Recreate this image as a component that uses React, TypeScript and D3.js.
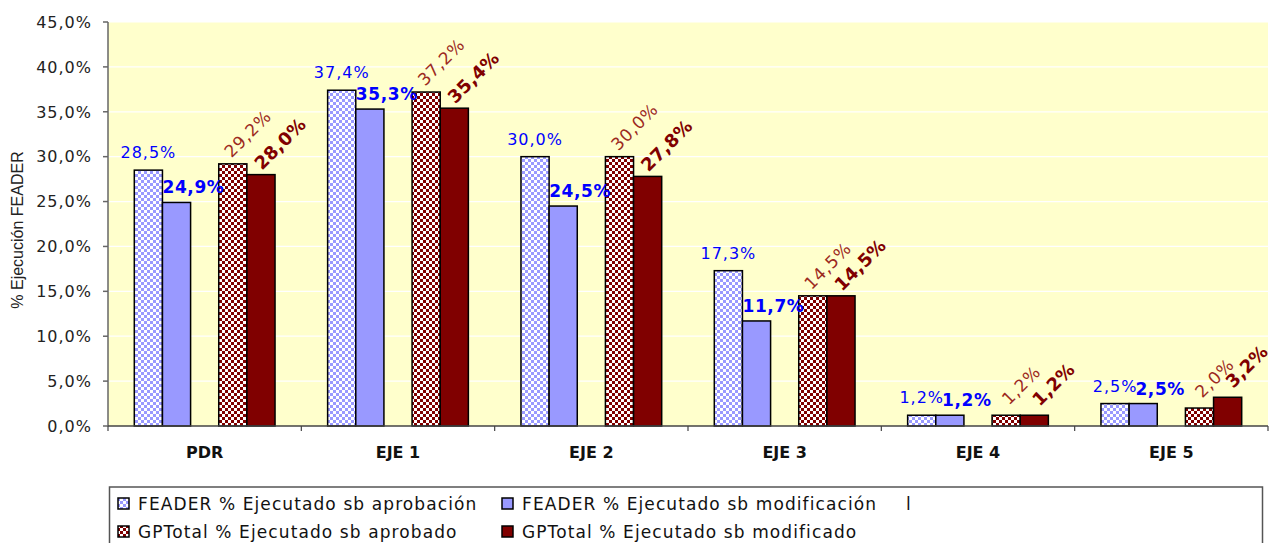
import React from "react";
import { scaleBand, scaleLinear, formatLocale } from "d3";

// categories and series values (percent)
const categories = ["PDR", "EJE 1", "EJE 2", "EJE 3", "EJE 4", "EJE 5"];
const feaderAprobacion = [28.5, 37.4, 30.0, 17.3, 1.2, 2.5];
const feaderModificacion = [24.9, 35.3, 24.5, 11.7, 1.2, 2.5];
const serieL: (number | null)[] = [null, null, null, null, null, null];
const gpAprobado = [29.2, 37.2, 30.0, 14.5, 1.2, 2.0];
const gpModificado = [28.0, 35.4, 27.8, 14.5, 1.2, 3.2];
const yTicks = [0, 5, 10, 15, 20, 25, 30, 35, 40, 45];

const seriesNames = [
  "FEADER % Ejecutado sb aprobación",
  "FEADER % Ejecutado sb modificación",
  "l",
  "GPTotal % Ejecutado sb aprobado",
  "GPTotal % Ejecutado sb modificado",
];
const seriesValues = [feaderAprobacion, feaderModificacion, serieL, gpAprobado, gpModificado];

const W = 1273;
const H = 543;
const left = 108;
const right = 1268;
const top = 22;
const bottom = 426;

const esLocale = formatLocale({ decimal: ",", thousands: ".", grouping: [3], currency: ["", "€"] });
const fmt = esLocale.format(".1f");
const pct = (v: number) => fmt(v) + "%";

const fills = ["url(#chkBlue)", "#9999FF", "none", "url(#chkRed)", "#800000"];

// label style per series
const labelStyle = [
  { color: "#0000FF", bold: false, rot: false, dx: 0, dy: -12, size: 16, ls: 1 },
  { color: "#0000FF", bold: true, rot: false, dx: 17, dy: -9, size: 17, ls: 0.6 },
  null,
  { color: "#9C2A1E", bold: false, rot: true, dx: 15, dy: -30, size: 17, ls: 0.8 },
  { color: "#800000", bold: true, rot: true, dx: 19, dy: -31, size: 18, ls: 0.3 },
];

const App = () => {
  const y = scaleLinear().domain([0, 45]).range([bottom, top]);
  const x0 = scaleBand<string>().domain(categories).range([left, right]);
  const bw = x0.bandwidth();
  const x1 = scaleBand<number>()
    .domain(seriesNames.map((_, i) => i))
    .range([26.3, bw - 26.3]);

  const font = "'DejaVu Sans', Verdana, sans-serif";

  return (
    <svg
      width={W}
      height={H}
      style={{ position: "absolute", left: 0, top: 0, background: "#fff" }}
      fontFamily={font}
    >
      <defs>
        <pattern id="chkBlue" width={6} height={6} patternUnits="userSpaceOnUse">
          <rect width={6} height={6} fill="#9999FF" />
          <rect width={3} height={3} fill="#fff" />
          <rect x={3} y={3} width={3} height={3} fill="#fff" />
        </pattern>
        <pattern id="chkRed" width={6} height={6} patternUnits="userSpaceOnUse">
          <rect width={6} height={6} fill="#800000" />
          <rect width={3} height={3} fill="#fff" />
          <rect x={3} y={3} width={3} height={3} fill="#fff" />
        </pattern>
      </defs>

      {/* plot area */}
      <rect x={left} y={top} width={right - left} height={bottom - top} fill="#FFFFCC" />
      {yTicks.slice(1).map((t) => (
        <line key={t} x1={left} x2={right} y1={y(t)} y2={y(t)} stroke="#fff" strokeWidth={1.2} />
      ))}

      {/* bars */}
      {categories.map((c, ci) =>
        seriesValues.map((vals, si) => {
          const v = vals[ci];
          if (v == null) return null;
          const bx = (x0(c) as number) + (x1(si) as number);
          return (
            <rect
              key={c + si}
              x={bx}
              y={y(v)}
              width={x1.bandwidth()}
              height={y(0) - y(v)}
              fill={fills[si]}
              stroke="#000"
              strokeWidth={1.5}
            />
          );
        })
      )}

      {/* data labels */}
      {categories.map((c, ci) =>
        seriesValues.map((vals, si) => {
          const v = vals[ci];
          const st = labelStyle[si];
          if (v == null || !st) return null;
          const cx = (x0(c) as number) + (x1(si) as number) + x1.bandwidth() / 2;
          const ty = y(v);
          const common = {
            fill: st.color,
            fontWeight: st.bold ? "bold" : "normal",
            fontSize: st.size,
            letterSpacing: st.ls,
          };
          if (st.rot) {
            return (
              <text
                key={"l" + c + si}
                transform={`translate(${cx + st.dx},${ty + st.dy}) rotate(-45)`}
                textAnchor="middle"
                dominantBaseline="central"
                {...common}
              >
                {pct(v)}
              </text>
            );
          }
          return (
            <text key={"l" + c + si} x={cx + st.dx} y={ty + st.dy} textAnchor="middle" {...common}>
              {pct(v)}
            </text>
          );
        })
      )}

      {/* y axis */}
      <line x1={left} x2={left} y1={top} y2={bottom} stroke="#666" strokeWidth={1.5} />
      {yTicks.map((t) => (
        <g key={"yt" + t}>
          <line x1={left - 5} x2={left} y1={y(t)} y2={y(t)} stroke="#666" strokeWidth={1.5} />
          <text
            x={92}
            y={y(t)}
            dy="0.36em"
            textAnchor="end"
            fontSize={16}
            letterSpacing={1}
            fill="#222"
          >
            {pct(t)}
          </text>
        </g>
      ))}
      <text
        transform={`translate(23,${(top + bottom) / 2 + 6}) rotate(-90)`}
        textAnchor="middle"
        fontFamily="'Liberation Sans', Arial, sans-serif"
        fontSize={16}
        fill="#222"
      >
        % Ejecución FEADER
      </text>

      {/* x axis */}
      <line x1={left} x2={right} y1={bottom} y2={bottom} stroke="#444" strokeWidth={1.5} />
      {[...categories.map((c) => x0(c) as number), right].map((tx, i) => (
        <line key={"xt" + i} x1={tx} x2={tx} y1={bottom} y2={bottom + 5} stroke="#444" strokeWidth={1.2} />
      ))}
      {categories.map((c) => (
        <text
          key={"xl" + c}
          x={(x0(c) as number) + bw / 2}
          y={458}
          textAnchor="middle"
          fontWeight="bold"
          fontSize={16}
          fill="#111"
        >
          {c}
        </text>
      ))}

      {/* legend */}
      <rect x={109.5} y={487} width={1153} height={70} fill="#fff" stroke="#555" strokeWidth={1.5} />
      {seriesNames.map((name, i) => {
        const col = i % 3;
        const row = Math.floor(i / 3);
        const mx = 118 + col * 384;
        const my = 498 + row * 28;
        return (
          <g key={"lg" + i}>
            {fills[i] !== "none" && (
              <rect x={mx} y={my} width={11} height={11} fill={fills[i]} stroke="#000" strokeWidth={1.5} />
            )}
            <text x={mx + 20} y={my + 12} fontSize={17} letterSpacing={1.1} fill="#111">
              {name}
            </text>
          </g>
        );
      })}
    </svg>
  );
};

export default App;
